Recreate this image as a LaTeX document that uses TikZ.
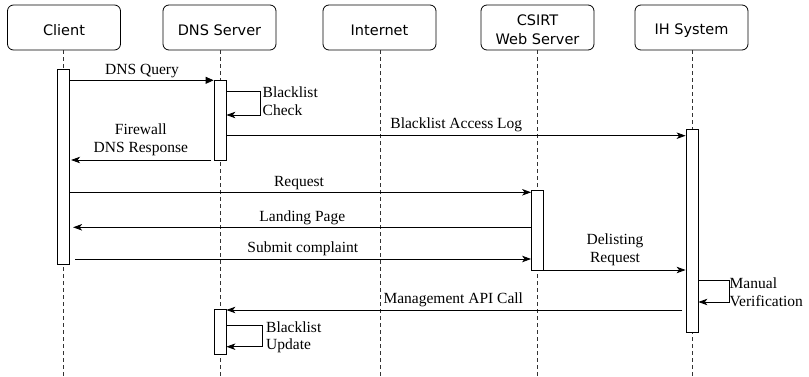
\documentclass[tikz,border=0pt]{standalone}
\usepackage{fontspec}
\setmainfont{Liberation Serif}
\newfontfamily\hdrfont{DejaVu Sans}
\usetikzlibrary{arrows.meta}
\newcommand{\hdrpad}[1]{\rule{0pt}{#1}}
\tikzset{
  hdr/.style={draw, rounded corners=6pt, minimum width=113pt, minimum height=45pt, inner sep=0pt, font=\hdrfont\fontsize{14.5}{19}\selectfont, align=center, line width=0.8pt},
  life/.style={dash pattern=on 4pt off 3pt, line width=0.9pt, draw=black!80},
  act/.style={draw, fill=white, minimum width=12pt, inner sep=0pt, line width=0.8pt},
  msg/.style={line width=0.8pt, -{Stealth[length=9pt,width=6.5pt,inset=2.5pt]}},
  msgfirst/.style={line width=0.8pt, -{Triangle[length=8pt,width=7pt]}},
  lbl/.style={font=\fontsize{15.5}{17.5}\selectfont, inner sep=0pt, align=center},
  lbll/.style={font=\fontsize{15.5}{17.5}\selectfont, inner sep=0pt, align=left, anchor=west},
}
\begin{document}
\begin{tikzpicture}[x=1pt,y=-1pt]
\useasboundingbox (0,0) rectangle (809,377);
% headers
\node[hdr] (client) at (64,27.5) {\hdrpad{17pt}Client};
\node[hdr] (dns) at (219.5,27.5) {\hdrpad{17pt}DNS Server};
\node[hdr] (inet) at (379.5,27.5) {\hdrpad{17pt}Internet};
\node[hdr] (csirt) at (537.5,27.5) {\hdrpad{16pt}CSIRT\\Web Server};
\node[hdr] (ih) at (691.5,27.5) {\hdrpad{17pt}IH System};
% lifeline ends
\coordinate (cb) at (63.3,377);
\coordinate (db) at (220,377);
\coordinate (ib) at (380,377);
\coordinate (sb) at (537.3,377);
\coordinate (hb) at (692,377);
\draw[life] (client.south -| cb) -- (cb);
\draw[life] (dns.south -| db) -- (db);
\draw[life] (inet.south -| ib) -- (ib);
\draw[life] (csirt.south -| sb) -- (sb);
\draw[life] (ih.south -| hb) -- (hb);
% activations
\node[act, minimum height=195pt] (aC) at (63.3,166.5) {};
\node[act, minimum height=80pt] (aD1) at (220,120) {};
\node[act, minimum height=203pt] (aH) at (692,230.5) {};
\node[act, minimum height=80pt] (aS) at (537.5,230) {};
\node[act, minimum height=44.6pt] (aD2) at (220,332) {};
% y levels
\coordinate (y1) at (0,80.3);
\coordinate (y2a) at (0,91.7);
\coordinate (y2b) at (0,115);
\coordinate (y3) at (0,135.7);
\coordinate (y4) at (0,160);
\coordinate (y5) at (0,192.3);
\coordinate (y6) at (0,227.3);
\coordinate (y7) at (0,259);
\coordinate (y8) at (0,270);
\coordinate (y9a) at (0,280);
\coordinate (y9b) at (0,302);
\coordinate (y10) at (0,310);
\coordinate (y11a) at (0,325.3);
\coordinate (y11b) at (0,346.7);
% messages
\draw[msgfirst] (aC.east |- y1) -- (aD1.west |- y1);
\node[lbl, anchor=base] (l1) at (142,74.7) {DNS Query};
\draw[msg] (aD1.east |- y2a) -- ++(34,0) |- (aD1.east |- y2b);
\node[lbll] (l2) at (262.5,101) {Blacklist\\Check};
\draw[msg] (aD1.east |- y3) -- (aH.west |- y3);
\node[lbl, anchor=base] (l3) at (456.3,129) {Blacklist Access Log};
\draw[msg, shorten <=2.3pt, shorten >=1.4pt] (aD1.west |- y4) -- (aC.east |- y4);
\node[lbl] (l4) at (140.8,140) {Firewall\\DNS Response};
\draw[msg] (aC.east |- y5) -- (aS.west |- y5);
\node[lbl, anchor=base] (l5) at (299,186.7) {Request};
\draw[msg, shorten >=3.4pt] (aS.west |- y6) -- (aC.east |- y6);
\node[lbl, anchor=base] (l6) at (302.3,221.7) {Landing Page};
\draw[msg, shorten <=5.7pt] (aC.east |- y7) -- (aS.west |- y7);
\node[lbl, anchor=base] (l7) at (302.8,252.7) {Submit complaint};
\draw[msg] (aS.east |- y8) -- (aH.west |- y8);
\node[lbl] (l8) at (615,250) {Delisting\\Request};
\draw[msg] (aH.east |- y9a) -- ++(30.6,0) |- (aH.east |- y9b);
\node[lbll] (l9) at (729.5,292) {Manual\\Verification};
\draw[msg, shorten <=3.3pt] (aH.west |- y10) -- (aD2.east |- y10);
\node[lbl, anchor=base] (l10) at (453.3,303.3) {Management API Call};
\draw[msg] (aD2.east |- y11a) -- ++(35.7,0) |- (aD2.east |- y11b);
\node[lbll] (l11) at (266,337.5) {Blacklist\\Update};
\end{tikzpicture}
\end{document}
